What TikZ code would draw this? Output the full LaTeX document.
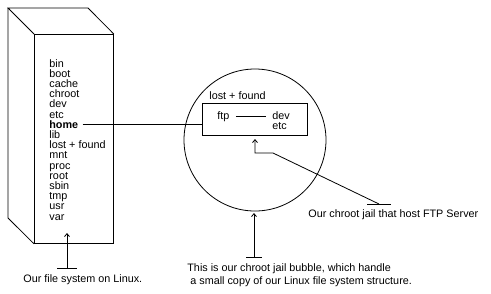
\documentclass[tikz,border=0pt]{standalone}
\usepackage{fontspec}
\setmainfont{Liberation Sans}
\usetikzlibrary{positioning,arrows.meta}

\begin{document}
\begin{tikzpicture}[x=1pt,y=-1pt,line width=0.8pt,
  font=\fontsize{10.8}{10.2}\selectfont,
  >={Straight Barb[length=3pt,width=5pt]},
  lbl/.style={inner sep=0pt,anchor=base west},
  face/.style={draw,inner sep=0pt,anchor=north west}]
 \useasboundingbox (0,0) rectangle (491,293);
 % file system on Linux
 \node[face,minimum width=79pt,minimum height=209pt] (fs) at (34,34) {};
 \draw (fs.north west) -- (8,8) -- (88,8) -- (fs.north east);
 \draw (8,8) -- (8,218) -- (fs.south west);
 \foreach \d [count=\i] in {bin,boot,cache,chroot,dev,etc,\textbf{home},lib,
   lost + found,mnt,proc,root,sbin,tmp,usr,var}
   \node[lbl] (dir\i) at (49,{67+10.2*(\i-1)}) {\d};
 % chroot jail bubble
 \node[draw,circle,minimum size=142pt,inner sep=0pt] (bubble) at (255,140) {};
 \node[face,minimum width=105pt,minimum height=32pt] (jail) at (202,103) {};
 \node[lbl] (lf) at (209,99) {lost + found};
 \node[lbl] (ftp) at (217,119) {ftp};
 \node[lbl] (dev) at (272,119) {dev};
 \node[lbl] (etc) at (272,129) {etc};
 \draw[shorten <=6pt,shorten >=6pt] (ftp.east) -- (ftp.east -| dev.west);
 \draw[shorten <=4pt] (dir7.east) -- (dir7.east -| jail.west);
 % captions
 \node[lbl] (fslbl) at (23,282) {Our file system on Linux.};
 \node[lbl] (jaillbl) at (308,217) {Our chroot jail that host FTP Server};
 \node[lbl] (bublbl) at (187,271) {This is our chroot jail bubble, which handle};
 \node[lbl] (bublbl2) at (190,284) {a small copy of our Linux file system structure.};
 % pointers
 \coordinate (fstee) at (67,268);  \coordinate (fstip) at (67,233);
 \coordinate (jailtee) at (379,204); \coordinate (jailtip) at (255,139);
 \coordinate (bubtee) at (254,257); \coordinate (bubtip) at (254,213);
 \draw ([xshift=-10pt]fstee) -- ([xshift=10pt]fstee);
 \draw[->] (fstee) -- (fstip);
 \draw ([xshift=-12pt]jailtee) -- ([xshift=12pt]jailtee);
 \draw[->] (jailtee) -- (273,153) -| (jailtip);
 \draw ([xshift=-8pt]bubtee) -- ([xshift=8pt]bubtee);
 \draw[->] (bubtee) -- (bubtip);
\end{tikzpicture}
\end{document}
